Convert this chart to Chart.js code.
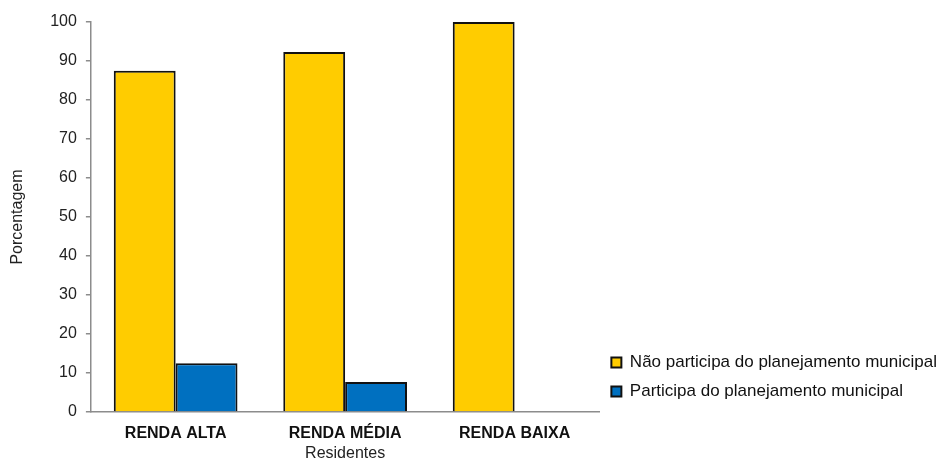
<!DOCTYPE html>
<html>
<head>
<meta charset="utf-8">
<script src="https://cdn.jsdelivr.net/npm/chart.js@4"></script>
<style>
  html, body { margin: 0; padding: 0; background: #fff; }
  .container { width: 939px; height: 462px; }
</style>
</head>
<body>
<div class="container">
  <canvas id="residentes"></canvas>
</div>
<script>
const categories = ['RENDA ALTA', 'RENDA MÉDIA', 'RENDA BAIXA']
const naoParticipa = [87.5, 92.3, 100]
const participa = [12.5, 7.7, 0]
const seriesNames = ['Não participa do planejamento municipal', 'Participa do planejamento municipal']

Chart.defaults.font.family = "'Liberation Sans', Arial, sans-serif"
Chart.defaults.color = '#222'

const ctx = document.getElementById('residentes')

new Chart(ctx, {
  type: 'bar',
  data: {
    labels: categories,
    datasets: [
      {
        label: seriesNames[0],
        data: naoParticipa,
        backgroundColor: '#FFCC00',
        borderColor: '#111',
        borderWidth: 2,
        borderSkipped: 'bottom'
      },
      {
        label: seriesNames[1],
        data: participa,
        backgroundColor: '#0070C0',
        borderColor: '#111',
        borderWidth: 2,
        borderSkipped: 'bottom'
      }
    ]
  },
  options: {
    responsive: true,
    maintainAspectRatio: false,
    animation: false,
    layout: {
      // legend sits almost flush with the right edge in the original
      padding: { top: 22, left: 8, right: -8, bottom: 0 }
    },
    datasets: {
      bar: {
        categoryPercentage: 0.73,
        barPercentage: 1
      }
    },
    plugins: {
      tooltip: { enabled: false },
      legend: {
        position: 'right',
        align: 'end',
        fullSize: false,
        maxWidth: 400,
        labels: {
          boxWidth: 10,
          boxHeight: 10,
          padding: 12,
          color: '#111',
          font: { size: 17 }
        }
      }
    },
    scales: {
      x: {
        grid: { display: false, drawTicks: false },
        border: { display: true, color: '#8c8c8c', width: 1.5 },
        ticks: {
          padding: 14,
          color: '#111',
          font: { size: 16, weight: 'bold', lineHeight: 1 }
        },
        title: {
          display: true,
          text: 'Residentes',
          color: '#222',
          padding: { top: -10, bottom: 0 },
          font: { size: 16, lineHeight: 1 }
        }
      },
      y: {
        min: 0,
        max: 100,
        grid: {
          drawOnChartArea: false,
          tickLength: 5,
          color: '#8c8c8c',
          lineWidth: 1.5
        },
        border: { display: true, color: '#8c8c8c', width: 1.5 },
        ticks: {
          stepSize: 10,
          padding: 9,
          color: '#222',
          font: { size: 16 }
        },
        title: {
          display: true,
          text: 'Porcentagem',
          color: '#222',
          padding: { top: 0, bottom: 14 },
          font: { size: 16 }
        }
      }
    }
  }
})
</script>
</body>
</html>
